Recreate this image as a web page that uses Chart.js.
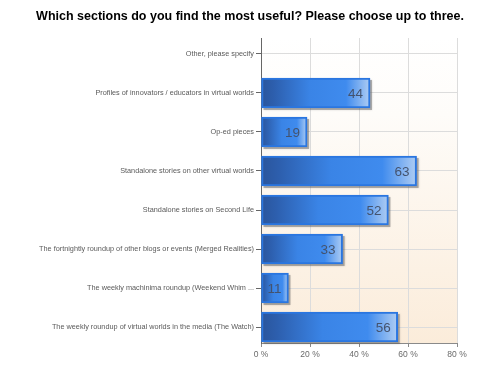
<!DOCTYPE html>
<html>
<head>
<meta charset="utf-8">
<script src="https://cdn.jsdelivr.net/npm/chart.js@4.4.1/dist/chart.umd.min.js"></script>
<style>
  html, body { margin: 0; padding: 0; background: #ffffff; }
  #wrap { width: 500px; height: 375px; position: relative; }
</style>
</head>
<body>
<div id="wrap"><canvas id="c" width="500" height="375"></canvas></div>
<script>
const titleText = 'Which sections do you find the most useful? Please choose up to three.';
const categories = [
  'Other, please specify',
  'Profiles of innovators / educators in virtual worlds',
  'Op-ed pieces',
  'Standalone stories on other virtual worlds',
  'Standalone stories on Second Life',
  'The fortnightly roundup of other blogs or events (Merged Realities)',
  'The weekly machinima roundup (Weekend Whim ...',
  'The weekly roundup of virtual worlds in the media (The Watch)'
];
const counts = [0, 44, 19, 63, 52, 33, 11, 56];
const percents = [0, 44.5, 18.8, 63.5, 52, 33.3, 11.2, 55.8];
const xTickValues = [0, 20, 40, 60, 80];
const xTickLabels = ['0 %', '20 %', '40 %', '60 %', '80 %'];

const FONT = "'Liberation Sans', Arial, sans-serif";

const bgPlugin = {
  id: 'plotBg',
  beforeDraw(chart) {
    const { ctx, chartArea: a } = chart;
    const g = ctx.createLinearGradient(0, a.top, 0, a.bottom);
    g.addColorStop(0, '#ffffff');
    g.addColorStop(0.25, '#fefcf9');
    g.addColorStop(1, '#fbecda');
    ctx.save();
    ctx.fillStyle = g;
    ctx.fillRect(a.left, a.top, a.right - a.left, a.bottom - a.top);
    ctx.font = 'bold 12.5px ' + FONT;
    ctx.fillStyle = '#000000';
    ctx.textAlign = 'center';
    ctx.textBaseline = 'middle';
    ctx.fillText(titleText, 250, 17);
    ctx.restore();
  }
};

const shadowPlugin = {
  id: 'barShadow',
  beforeDatasetsDraw(chart) {
    const { ctx } = chart;
    const meta = chart.getDatasetMeta(0);
    ctx.save();
    meta.data.forEach((bar, i) => {
      if (!counts[i]) return;
      const p = bar.getProps(['x', 'y', 'base', 'height'], true);
      ctx.fillStyle = 'rgba(110,110,110,0.5)';
      ctx.shadowColor = 'rgba(0,0,0,0.3)';
      ctx.shadowBlur = 2;
      ctx.fillRect(p.base + 2, p.y - p.height / 2 + 2, p.x - p.base, p.height);
    });
    ctx.restore();
  }
};

const labelPlugin = {
  id: 'valueLabels',
  afterDatasetsDraw(chart) {
    const { ctx } = chart;
    const meta = chart.getDatasetMeta(0);
    ctx.save();
    ctx.font = '13.5px ' + FONT;
    ctx.fillStyle = '#44536e';
    ctx.textAlign = 'right';
    ctx.textBaseline = 'middle';
    meta.data.forEach((bar, i) => {
      if (!counts[i]) return;
      const p = bar.getProps(['x', 'y'], true);
      ctx.fillText(String(counts[i]), p.x - 7, p.y + 1);
    });
    ctx.restore();
  }
};

function barGradient(context) {
  const chart = context.chart;
  const xs = chart.scales && chart.scales.x;
  const raw = context.raw;
  if (!xs || !raw || !chart.chartArea) return '#3a85e8';
  const x0 = xs.getPixelForValue(0);
  const x1 = xs.getPixelForValue(raw.x);
  if (!isFinite(x0) || !isFinite(x1) || x1 - x0 < 1) return '#3a85e8';
  const g = chart.ctx.createLinearGradient(x0, 0, x1, 0);
  g.addColorStop(0, '#2a559c');
  g.addColorStop(0.12, '#2d5fae');
  g.addColorStop(0.45, '#3a84e6');
  g.addColorStop(0.78, '#3f8bee');
  g.addColorStop(1, '#afcdf3');
  return g;
}

new Chart(document.getElementById('c'), {
  type: 'bar',
  data: {
    datasets: [{
      data: percents.map((v, i) => ({ x: v, y: i })),
      backgroundColor: barGradient,
      borderColor: '#2a76e0',
      borderWidth: 2,
      borderSkipped: false,
      barThickness: 30
    }]
  },
  options: {
    indexAxis: 'y',
    responsive: false,
    animation: false,
    layout: { padding: { left: 0, right: 43, top: 38, bottom: 0 } },
    plugins: {
      legend: { display: false },
      tooltip: { enabled: false },
      title: { display: false }
    },
    scales: {
      x: {
        type: 'linear',
        min: 0,
        max: 80,
        afterFit(scale) { scale.height = 32; },
        afterBuildTicks(scale) { scale.ticks = xTickValues.map(v => ({ value: v })); },
        ticks: {
          color: '#6a6a6a',
          font: { family: FONT, size: 8.5 },
          padding: 3,
          maxRotation: 0,
          callback: (v) => xTickLabels[xTickValues.indexOf(v)]
        },
        grid: { color: '#dcdcdc', lineWidth: 1, tickLength: 4, tickColor: '#8a8a8a' },
        border: { color: '#8a8a8a', width: 1 }
      },
      y: {
        type: 'linear',
        reverse: true,
        offset: false,
        min: -0.41,
        max: 7.41,
        afterFit(scale) { scale.width = 261; },
        afterBuildTicks(scale) { scale.ticks = categories.map((c, i) => ({ value: i })); },
        ticks: {
          color: '#5a5a5a',
          font: { family: FONT, size: 7.3 },
          padding: 2,
          autoSkip: false,
          callback: (v) => categories[v]
        },
        grid: { offset: false, color: '#dcdcdc', lineWidth: 1, tickLength: 5, tickColor: '#666666' },
        border: { color: '#666666', width: 1 }
      }
    }
  },
  plugins: [bgPlugin, shadowPlugin, labelPlugin]
});
</script>
</body>
</html>
